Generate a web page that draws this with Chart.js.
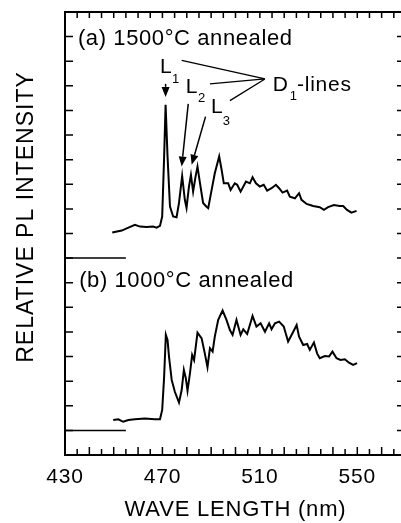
<!DOCTYPE html>
<html>
<head>
<meta charset="utf-8">
<script src="https://cdn.jsdelivr.net/npm/chart.js@4.4.1/dist/chart.umd.min.js"></script>
<style>
  html, body { margin: 0; padding: 0; background: #fff; overflow: hidden; }
</style>
</head>
<body>
<canvas id="plChart" width="408" height="523"></canvas>
<script>
/* ============================
   PL SPECTRA (a) 1500C / (b) 1000C
============================ */

// ======== DATA ========
const waveA = [449.4, 453.3, 455.8, 458.7, 460.8, 463.5, 466.2, 467.6, 469.0, 469.9, 470.7, 471.3,
    472.1, 473.1, 474.4, 475.8, 476.8, 478.1, 479.2, 479.9, 480.9, 481.7, 482.6, 483.6, 484.4,
    485.4, 486.7, 488.1, 488.8, 490.2, 491.5, 493.3, 494.3, 495.2, 497.0, 498.0, 499.7, 500.7,
    502.1, 504.3, 505.9, 507.0, 508.4, 510.0, 511.6, 513.0, 514.8, 516.6, 517.9, 519.3, 521.2,
    522.3, 524.4, 526.1, 527.1, 529.2, 531.9, 534.6, 536.3, 538.0, 540.4, 542.8, 544.2, 545.8,
    547.6, 549.7];
const intensA = [9.04, 9.12, 9.23, 9.35, 9.28, 9.26, 9.28, 9.24, 9.31, 9.69, 12.13, 14.23,
    12.13, 10.09, 9.69, 9.66, 10.24, 11.34, 10.37, 10.04, 10.91, 11.38, 10.70, 11.31, 11.72,
    11.06, 10.24, 10.09, 10.03, 10.77, 11.45, 12.13, 11.59, 11.04, 11.04, 10.77, 11.04, 10.98,
    10.70, 11.11, 11.04, 11.29, 11.04, 10.91, 10.98, 10.74, 10.84, 10.98, 10.84, 10.66, 10.74,
    10.50, 10.43, 10.64, 10.37, 10.20, 10.12, 10.07, 9.96, 10.07, 10.16, 10.12, 10.12, 9.96,
    9.85, 9.92];

const waveB = [449.8, 451.9, 453.9, 456.0, 458.7, 462.8, 466.9, 469.0, 469.9, 470.7, 471.4,
    472.1, 472.7, 473.8, 475.1, 476.8, 477.9, 478.8, 479.6, 480.3, 481.3, 482.2, 483.0, 484.4,
    486.1, 487.4, 488.5, 489.5, 490.6, 491.5, 492.9, 494.7, 496.3, 497.7, 498.8, 500.4, 502.1,
    503.2, 504.8, 507.0, 508.6, 510.3, 512.1, 513.8, 514.8, 516.2, 517.9, 519.8, 521.6, 523.4,
    525.1, 526.1, 527.8, 529.4, 530.5, 532.2, 533.5, 534.6, 536.7, 538.4, 539.8, 541.5, 543.1,
    544.9, 546.6, 548.3, 549.9];
const intensB = [1.42, 1.45, 1.35, 1.42, 1.45, 1.48, 1.45, 1.45, 1.83, 3.18, 4.88,
    4.67, 4.00, 3.05, 2.57, 2.13, 2.64, 3.46, 3.12, 2.61, 3.32, 4.07, 3.86, 4.97,
    4.74, 4.13, 3.57, 4.34, 4.20, 4.81, 5.49, 5.87, 5.49, 5.08, 4.88, 5.49, 4.88,
    5.11, 4.92, 5.65, 5.22, 5.35, 5.01, 5.35, 5.11, 5.35, 5.42, 5.22, 4.61, 4.95,
    5.28, 4.81, 4.47, 4.51, 4.27, 4.57, 4.13, 3.93, 4.02, 4.00, 4.20, 3.93, 3.86,
    3.89, 3.75, 3.66, 3.73];

// zero-level markers on the left of each spectrum
const baseWave = [430, 455];
const baseA = [8, 8];
const baseB = [1, 1];

const xTicks = [430, 470, 510, 550];

const FONT = '"Liberation Sans", Arial, Helvetica, sans-serif';

const toPoints = (xs, ys) => xs.map((v, i) => ({ x: v, y: ys[i] }));

// ======== FRAME, TICKS AND ANNOTATIONS ========
const framePlugin = {
    id: "frame",
    beforeDraw(chart) {
        chart.ctx.letterSpacing = "0.8px";
    },
    afterDatasetsDraw(chart) {
        const { ctx, chartArea: a, scales } = chart;
        const xs = scales.x, ys = scales.y;
        const X = (v) => xs.getPixelForValue(v);
        const Y = (v) => ys.getPixelForValue(v);

        ctx.save();
        ctx.strokeStyle = "#000";
        ctx.fillStyle = "#000";
        ctx.lineWidth = 2;
        ctx.strokeRect(a.left, a.top, a.right - a.left, a.bottom - a.top);

        // inward ticks
        ctx.lineWidth = 1.5;
        ctx.beginPath();
        for (let v = 435; v < 570; v += 5) {
            const px = X(v);
            const len = v % 10 === 0 ? 8 : 6;
            ctx.moveTo(px, a.bottom);
            ctx.lineTo(px, a.bottom - len);
            ctx.moveTo(px, a.top);
            ctx.lineTo(px, a.top + 6);
        }
        for (let v = 1; v < 18; v++) {
            const py = Y(v);
            ctx.moveTo(a.left, py);
            ctx.lineTo(a.left + 8, py);
            ctx.moveTo(a.right, py);
            ctx.lineTo(a.right - 9, py);
        }
        ctx.stroke();

        // texts
        const text = (s, x, y, size, sp) => {
            ctx.font = size + "px " + FONT;
            ctx.letterSpacing = sp + "px";
            ctx.textAlign = "left";
            ctx.textBaseline = "alphabetic";
            ctx.fillText(s, X(x), Y(y));
        };
        text("(a) 1500°C annealed", 435.3, 16.67, 22, 0.6);
        text("(b) 1000°C annealed", 435.8, 6.81, 22, 0.6);
        text("L", 469.0, 15.53, 21, 0); text("1", 473.9, 15.12, 13, 0);
        text("L", 479.6, 14.72, 21, 0); text("2", 484.6, 14.35, 13, 0);
        text("L", 489.9, 13.90, 21, 0); text("3", 494.8, 13.41, 13, 0);
        text("D", 515.3, 14.80, 21, 0); text("1", 522.3, 14.43, 13, 0);
        text("-lines", 525.2, 14.80, 21, 0.8);

        // leader lines to D1-lines
        ctx.lineWidth = 1.3;
        ctx.beginPath();
        [[477.9, 16.03], [489.5, 15.08], [497.7, 14.40]].forEach(([sx, sy]) => {
            ctx.moveTo(X(sx), Y(sy));
            ctx.lineTo(X(512.1), Y(15.28));
        });
        ctx.stroke();

        // arrows
        const arrow = (x0, y0, x1, y1) => {
            const p0 = [X(x0), Y(y0)], p1 = [X(x1), Y(y1)];
            const ang = Math.atan2(p1[1] - p0[1], p1[0] - p0[0]);
            const hl = 10, hw = 4;
            const bx = p1[0] - hl * Math.cos(ang), by = p1[1] - hl * Math.sin(ang);
            ctx.lineWidth = 1.5;
            ctx.beginPath();
            ctx.moveTo(p0[0], p0[1]);
            ctx.lineTo(bx, by);
            ctx.stroke();
            ctx.beginPath();
            ctx.moveTo(p1[0], p1[1]);
            ctx.lineTo(bx + hw * Math.sin(ang), by - hw * Math.cos(ang));
            ctx.lineTo(bx - hw * Math.sin(ang), by + hw * Math.cos(ang));
            ctx.closePath();
            ctx.fill();
        };
        arrow(471.3, 15.08, 471.3, 14.55);
        arrow(480.6, 14.27, 477.9, 11.72);
        arrow(487.7, 13.75, 482.0, 11.79);

        // y axis title
        ctx.save();
        ctx.translate(27, 217);
        ctx.rotate(-Math.PI / 2);
        ctx.font = "23px " + FONT;
        ctx.letterSpacing = "1px";
        ctx.textAlign = "center";
        ctx.textBaseline = "middle";
        ctx.fillText("RELATIVE PL INTENSITY", 0, 0);
        ctx.restore();

        ctx.restore();
    },
};

// ======== CHART ========
const lineStyle = {
    borderColor: "#000",
    borderWidth: 2,
    pointRadius: 0,
    tension: 0,
    fill: false,
};

new Chart(document.getElementById("plChart"), {
    type: "line",
    data: {
        datasets: [
            { ...lineStyle, data: toPoints(waveA, intensA) },
            { ...lineStyle, data: toPoints(waveB, intensB) },
            { ...lineStyle, borderWidth: 1.5, data: toPoints(baseWave, baseA) },
            { ...lineStyle, borderWidth: 1.5, data: toPoints(baseWave, baseB) },
        ],
    },
    options: {
        responsive: false,
        animation: false,
        devicePixelRatio: 1,
        layout: { padding: { top: 12, right: 2, left: 0, bottom: 0 } },
        plugins: { legend: { display: false }, tooltip: { enabled: false } },
        scales: {
            x: {
                type: "linear",
                min: 430,
                max: 570,
                grid: { display: false },
                border: { display: false },
                afterBuildTicks: (scale) => {
                    scale.ticks = xTicks.map((v) => ({ value: v }));
                },
                afterFit: (scale) => { scale.height = 68; },
                ticks: {
                    color: "#000",
                    padding: 2,
                    maxRotation: 0,
                    font: { family: FONT, size: 21 },
                },
                title: {
                    display: true,
                    text: "WAVE LENGTH (nm)",
                    color: "#000",
                    font: { family: FONT, size: 22 },
                    padding: { top: 0, bottom: 0 },
                },
            },
            y: {
                min: 0,
                max: 18,
                grid: { display: false },
                border: { display: false },
                ticks: { display: false },
                afterFit: (scale) => { scale.width = 65; },
            },
        },
    },
    plugins: [framePlugin],
});
</script>
</body>
</html>
